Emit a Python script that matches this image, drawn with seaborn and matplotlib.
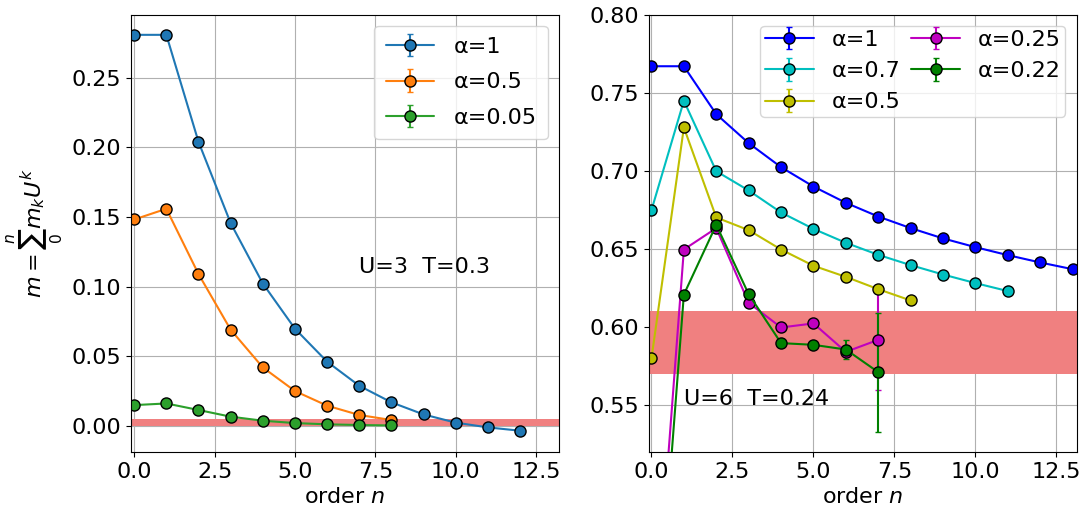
import numpy as np
import matplotlib
matplotlib.use("Agg")
import matplotlib.pyplot as plt
import seaborn as sns

# ---- U=3, T=0.3 : partial sums vs. order ----
orders_left = list(range(13))
m_a1 = [0.2809, 0.2809, 0.2040, 0.1456, 0.1022, 0.0697, 0.0460, 0.0287,
        0.0168, 0.0081, 0.0022, -0.0012, -0.0036]
m_a05 = [0.1482, 0.1559, 0.1090, 0.0690, 0.0419, 0.0249, 0.0144, 0.0077, 0.0041]
m_a005 = [0.0148, 0.0160, 0.0113, 0.0065, 0.0036, 0.0019, 0.0010, 0.0005, 0.0002]
err_a1 = [0.0005] * 13
err_a05 = [0.0005] * 9
err_a005 = [0.0003] * 9
labels_left = ["α=1", "α=0.5", "α=0.05"]
band_left = (0.0, 0.005)

# ---- U=6, T=0.24 ----
m6_a1 = [0.7669, 0.7669, 0.7362, 0.7177, 0.7023, 0.6899, 0.6795, 0.6707,
         0.6633, 0.6567, 0.6511, 0.6460, 0.6413, 0.6370]
m6_a07 = [0.6748, 0.7448, 0.6997, 0.6874, 0.6733, 0.6628, 0.6539, 0.6462,
          0.6396, 0.6336, 0.6281, 0.6230]
m6_a05 = [0.5799, 0.7277, 0.6701, 0.6620, 0.6496, 0.6392, 0.6321, 0.6242, 0.6170]
m6_a025 = [0.375, 0.6496, 0.6633, 0.6155, 0.5997, 0.6023, 0.5841, 0.5918]
m6_a022 = [0.350, 0.6208, 0.6654, 0.6210, 0.5897, 0.5886, 0.5856, 0.5711]
e6_a1 = [0.0003] * 14
e6_a07 = [0.0003] * 12
e6_a05 = [0.0005] * 9
e6_a025 = [0.0, 0.0005, 0.0005, 0.0005, 0.001, 0.001, 0.003, 0.032]
e6_a022 = [0.0, 0.0005, 0.0005, 0.0005, 0.001, 0.001, 0.0063, 0.038]
labels_right = ["α=1", "α=0.7", "α=0.5", "α=0.25", "α=0.22"]
band_right = (0.57, 0.61)

sns.set_style("ticks", rc={
    "axes.edgecolor": "black", "axes.linewidth": 0.8,
    "axes.grid": True, "grid.color": "#b0b0b0", "grid.linewidth": 0.8,
    "xtick.color": "black", "ytick.color": "black",
    "text.color": "black", "axes.labelcolor": "black",
    "xtick.major.size": 3.5, "ytick.major.size": 3.5,
    "xtick.major.width": 0.8, "ytick.major.width": 0.8,
    "axes.facecolor": "white", "figure.facecolor": "white",
})
plt.rcParams["font.family"] = ["DejaVu Sans"]
plt.rcParams["font.size"] = 16
plt.rcParams["legend.fontsize"] = 16
plt.rcParams["mathtext.fontset"] = "dejavusans"

tab = sns.color_palette("tab10")

fig, (ax1, ax2) = plt.subplots(1, 2, figsize=(10.86, 5.15), dpi=100)
fig.subplots_adjust(left=0.1206, right=0.9913, top=0.9718, bottom=0.1223, wspace=0.211)

style = dict(fmt="o-", ms=8, mec="black", mew=1.0, lw=1.5, capsize=2)

ax1.axhspan(*band_left, color="lightcoral", lw=0)
for ys, es, c, lab in zip([m_a1, m_a05, m_a005], [err_a1, err_a05, err_a005],
                          tab[:3], labels_left):
    ax1.errorbar(orders_left[:len(ys)], ys, yerr=es, color=c, label=lab, **style)
ax1.set_xlim(-0.1, 13.2)
ax1.set_ylim(-0.0189, 0.2955)
ax1.set_xlabel(r"order $n$")
ax1.set_ylabel(r"$m=\sum_0^n m_kU^k$")
ax1.text(7, 0.11, "U=3  T=0.3", fontsize=16)
ax1.legend(loc="upper right", borderpad=0.5, labelspacing=0.7, handlelength=2.2,
           handletextpad=0.85)

ax2.axhspan(*band_right, color="lightcoral", lw=0)
series_r = [m6_a1, m6_a07, m6_a05, m6_a025, m6_a022]
errs_r = [e6_a1, e6_a07, e6_a05, e6_a025, e6_a022]
cols_r = ["b", "c", "y", "m", "g"]
for ys, es, c, lab in zip(series_r, errs_r, cols_r, labels_right):
    ax2.errorbar(list(range(len(ys))), ys, yerr=es, color=c, label=lab, **style)
ax2.set_xlim(-0.08, 13.12)
ax2.set_ylim(0.52, 0.80)
ax2.set_xlabel(r"order $n$")
ax2.text(1, 0.55, "U=6  T=0.24", fontsize=16)
ax2.legend(loc="upper right", ncol=2, borderpad=0.2, labelspacing=0.5,
           columnspacing=0.5, handlelength=2.2)

fig.savefig("out.png", dpi=100)
